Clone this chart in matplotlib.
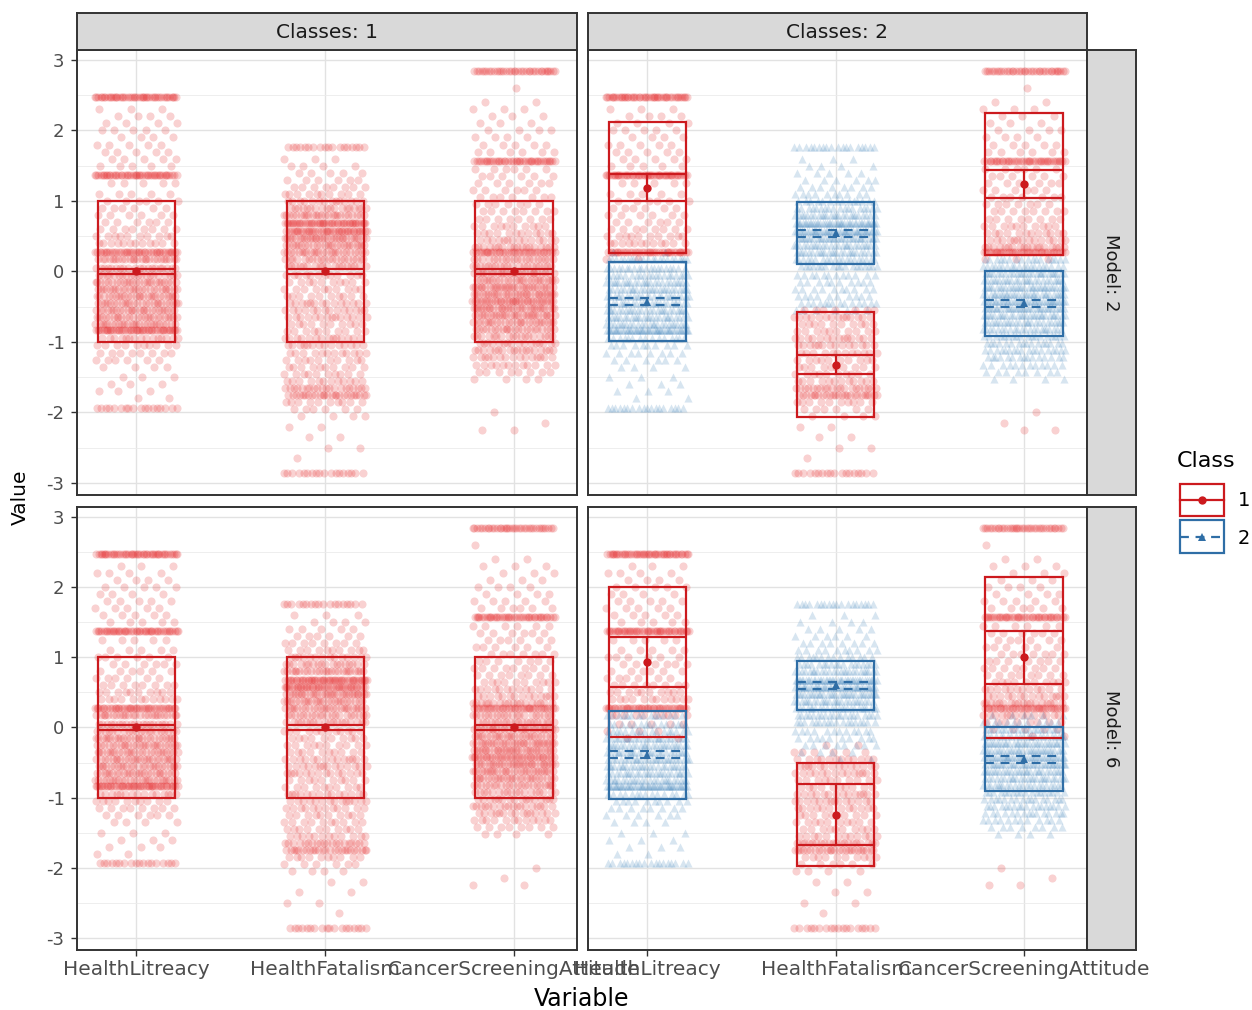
import numpy as np
import matplotlib.pyplot as plt
from matplotlib.patches import Rectangle

# observed score levels (values) and how many respondents sit on each
variables = ["HealthLitreacy", "HealthFatalism", "CancerScreeningAttitude"]

hl_vals = [2.47, 2.3, 2.2, 2.1, 2.0, 1.9, 1.8, 1.7, 1.6, 1.5,
           1.37, 1.25, 1.1, 1.0, 0.9, 0.8, 0.7, 0.6, 0.5, 0.4,
           0.27, 0.18, 0.05, -0.05, -0.15, -0.25, -0.35, -0.45, -0.55, -0.65,
           -0.75, -0.83, -0.95, -1.05, -1.15, -1.25, -1.35, -1.5, -1.6, -1.7,
           -1.8, -1.93]
hl_n = [45, 3, 4, 4, 5, 4, 5, 5, 5, 5,
        45, 5, 5, 6, 6, 6, 6, 8, 10, 12,
        40, 25, 20, 20, 25, 25, 25, 25, 25, 25,
        25, 45, 15, 10, 8, 6, 4, 3, 3, 3,
        2, 18]

hf_vals = [1.76, 1.6, 1.5, 1.4, 1.3, 1.2, 1.1, 1.0, 0.9, 0.8,
           0.68, 0.58, 0.48, 0.38, 0.28, 0.18, 0.08, -0.05, -0.15, -0.25,
           -0.35, -0.45, -0.55, -0.65, -0.75, -0.85, -0.95, -1.05, -1.15, -1.25,
           -1.35, -1.45, -1.55, -1.65, -1.75, -1.85, -1.95, -2.05, -2.2, -2.35,
           -2.5, -2.65, -2.86]
hf_n = [18, 3, 4, 5, 6, 8, 10, 14, 18, 25,
        45, 40, 30, 25, 25, 20, 18, 12, 10, 10,
        10, 14, 14, 14, 10, 10, 14, 14, 12, 10,
        10, 10, 12, 20, 25, 10, 6, 4, 2, 2,
        2, 1, 18]

csa_vals = [2.84, 2.6, 2.4, 2.3, 2.2, 2.1, 2.0, 1.9, 1.8, 1.7,
            1.57, 1.45, 1.35, 1.25, 1.15, 1.05, 0.95, 0.85, 0.75, 0.65,
            0.55, 0.45, 0.35, 0.28, 0.18, 0.08, -0.02, -0.12, -0.22, -0.32,
            -0.42, -0.52, -0.62, -0.72, -0.82, -0.92, -1.02, -1.12, -1.22, -1.32,
            -1.42, -1.52, -2.0, -2.15, -2.25]
csa_n = [35, 1, 2, 3, 3, 3, 4, 4, 5, 6,
         40, 6, 6, 6, 6, 7, 7, 8, 8, 10,
         12, 14, 18, 35, 20, 20, 25, 25, 30, 30,
         35, 30, 28, 25, 22, 18, 16, 18, 15, 12,
         8, 4, 1, 1, 2]

# members of class 1 on each level, two-class solution
hl_c1_m2 = [45, 3, 4, 4, 5, 4, 5, 5, 5, 5,
            45, 5, 5, 6, 6, 6, 6, 8, 10, 12,
            38, 2, 0, 0, 0, 0, 0, 0, 0, 0,
            0, 0, 0, 0, 0, 0, 0, 0, 0, 0,
            0, 0]
hf_c1_m2 = [0, 0, 0, 0, 0, 0, 0, 0, 0, 0,
            0, 0, 0, 0, 0, 0, 0, 0, 0, 0,
            0, 0, 7, 14, 10, 10, 14, 14, 12, 10,
            10, 10, 12, 20, 25, 10, 6, 4, 2, 2,
            2, 1, 18]
csa_c1_m2 = [35, 1, 2, 3, 3, 3, 4, 4, 5, 6,
             40, 6, 6, 6, 6, 7, 7, 8, 8, 10,
             12, 14, 18, 35, 3, 0, 0, 0, 0, 0,
             0, 0, 0, 0, 0, 0, 0, 0, 0, 0,
             0, 0, 1, 1, 2]

hl_c1_m6 = [45, 3, 4, 4, 5, 4, 5, 5, 5, 5,
            45, 5, 5, 6, 6, 6, 6, 8, 10, 12,
            40, 10, 5, 3, 2, 0, 0, 0, 0, 0,
            0, 0, 0, 0, 0, 0, 0, 0, 0, 0,
            0, 0]
hf_c1_m6 = [0, 0, 0, 0, 0, 0, 0, 0, 0, 0,
            0, 0, 0, 0, 0, 0, 0, 0, 0, 2,
            6, 12, 14, 14, 10, 10, 14, 14, 12, 10,
            10, 10, 12, 20, 25, 10, 6, 4, 2, 2,
            2, 1, 18]
csa_c1_m6 = [35, 1, 2, 3, 3, 3, 4, 4, 5, 6,
             40, 6, 6, 6, 6, 7, 7, 8, 8, 10,
             12, 14, 18, 35, 14, 8, 5, 2, 0, 0,
             0, 0, 0, 0, 0, 0, 0, 0, 0, 0,
             0, 0, 1, 1, 2]

# summaries: mean, sd (box) and CI half-width (error bar)
one_mean = [0.0, 0.0, 0.0]
one_sd = [1.0, 1.0, 1.0]
one_ci = [0.03, 0.03, 0.03]

m2_c1_mean = [1.19, -1.32, 1.24]
m2_c1_sd = [0.93, 0.74, 1.00]
m2_c1_ci = [0.19, 0.13, 0.20]
m2_c2_mean = [-0.43, 0.54, -0.45]
m2_c2_sd = [0.56, 0.44, 0.46]
m2_c2_ci = [0.05, 0.05, 0.05]

m6_c1_mean = [0.93, -1.24, 1.00]
m6_c1_sd = [1.07, 0.74, 1.15]
m6_c1_ci = [0.36, 0.43, 0.38]
m6_c2_mean = [-0.39, 0.60, -0.45]
m6_c2_sd = [0.63, 0.35, 0.45]
m6_c2_ci = [0.05, 0.05, 0.05]

models = ["Model: 2", "Model: 6"]
classes = ["Classes: 1", "Classes: 2"]

RED = "#E41A1C"
BLUE = "#377EB8"
RED_LINE = "#CC1A1E"
BLUE_LINE = "#2F6EA6"
HALF = 0.205
JITTER = 0.22

levels = [(hl_vals, hl_n), (hf_vals, hf_n), (csa_vals, csa_n)]
split = {0: [hl_c1_m2, hf_c1_m2, csa_c1_m2], 1: [hl_c1_m6, hf_c1_m6, csa_c1_m6]}
stats2 = {
    0: [(m2_c1_mean, m2_c1_sd, m2_c1_ci), (m2_c2_mean, m2_c2_sd, m2_c2_ci)],
    1: [(m6_c1_mean, m6_c1_sd, m6_c1_ci), (m6_c2_mean, m6_c2_sd, m6_c2_ci)],
}

W, H = 1252, 1010


def px(x0, y0, x1, y1):
    return [x0 / W, 1 - y1 / H, (x1 - x0) / W, (y1 - y0) / H]


def jitter(n, start):
    k = np.arange(start, start + n)
    return ((k * 0.6180339887) % 1.0 - 0.5) * 2 * JITTER


def draw_points(ax, x, vals, counts, color, marker, start):
    ys = np.repeat(vals, counts)
    xs = x + jitter(len(ys), start)
    ax.scatter(xs, ys, s=34, color=color, alpha=0.2, marker=marker,
               linewidths=0, zorder=2)


def draw_summary(ax, x, mean, sd, ci, color, ls, marker):
    ax.add_patch(Rectangle((x - HALF, mean - sd), 2 * HALF, 2 * sd,
                           fill=False, ec=color, lw=1.6, zorder=4))
    ax.hlines([mean - ci, mean + ci], x - HALF, x + HALF, colors=color,
              linestyles=ls, lw=1.6, zorder=4)
    ax.vlines(x, mean - ci, mean + ci, colors=color, linestyles=ls, lw=1.6,
              zorder=4)
    ax.plot(x, mean, marker=marker, color=color, ms=6, mew=0, zorder=5)


fig = plt.figure(figsize=(12.52, 10.10), dpi=100)

panel_x = [(77, 577), (588, 1087)]
panel_y = [(50, 495), (507, 950)]

for r in range(2):
    for c in range(2):
        x0, x1 = panel_x[c]
        y0, y1 = panel_y[r]
        ax = fig.add_axes(px(x0, y0, x1, y1))
        ax.set_xlim(0.685, 3.334)
        ax.set_ylim(-3.17, 3.14)
        ax.set_xticks([1, 2, 3])
        ax.set_yticks(range(-3, 4))
        ax.set_yticks(np.arange(-2.5, 3, 1.0), minor=True)
        ax.grid(which="major", color="#E2E2E2", lw=1.0)
        ax.grid(which="minor", axis="y", color="#EBEBEB", lw=0.6)
        ax.set_axisbelow(True)
        for s in ax.spines.values():
            s.set_color("#333333")
            s.set_linewidth(1.4)
        ax.tick_params(which="minor", length=0)
        ax.tick_params(axis="both", colors="#333333", length=4, width=1.0)
        if c == 0:
            ax.set_yticklabels([str(v) for v in range(-3, 4)], fontsize=13,
                               color="#4D4D4D")
            ax.tick_params(axis="y", pad=5)
        else:
            ax.tick_params(axis="y", length=0, labelleft=False)
        if r == 1:
            ax.set_xticklabels(variables, fontsize=14.5, color="#4D4D4D")
        else:
            ax.tick_params(axis="x", length=0, labelbottom=False)

        k = 0
        for i, (vals, n) in enumerate(levels):
            x = i + 1
            if c == 0:
                draw_points(ax, x, vals, n, RED, "o", k + 17 * r)
                k += sum(n)
            else:
                c1 = split[r][i]
                c2 = [a - b for a, b in zip(n, c1)]
                draw_points(ax, x, vals, c1, RED, "o", k + 17 * r)
                draw_points(ax, x, vals, c2, BLUE, "^", k + 5 + 17 * r)
                k += sum(n)

        for i in range(3):
            x = i + 1
            if c == 0:
                draw_summary(ax, x, one_mean[i], one_sd[i], one_ci[i],
                             RED_LINE, "solid", "o")
            else:
                (m1, s1, e1), (m2, s2, e2) = stats2[r]
                draw_summary(ax, x, m1[i], s1[i], e1[i], RED_LINE, "solid", "o")
                draw_summary(ax, x, m2[i], s2[i], e2[i], BLUE_LINE,
                             (0, (4, 3)), "^")

# strips along the top
for c in range(2):
    x0, x1 = panel_x[c]
    sa = fig.add_axes(px(x0, 13, x1, 50))
    sa.set_facecolor("#D9D9D9")
    sa.set_xticks([])
    sa.set_yticks([])
    for s in sa.spines.values():
        s.set_color("#333333")
        s.set_linewidth(1.4)
    sa.text(0.5, 0.48, classes[c], ha="center", va="center", fontsize=14.5,
            color="#1A1A1A", transform=sa.transAxes)

# strips on the right
for r in range(2):
    y0, y1 = panel_y[r]
    sa = fig.add_axes(px(1087, y0, 1136, y1))
    sa.set_facecolor("#D9D9D9")
    sa.set_xticks([])
    sa.set_yticks([])
    for s in sa.spines.values():
        s.set_color("#333333")
        s.set_linewidth(1.4)
    sa.text(0.5, 0.5, models[r], ha="center", va="center", fontsize=13,
            rotation=270, color="#1A1A1A", transform=sa.transAxes)

fig.text(582 / W, 1 - 999 / H, "Variable", ha="center", va="center",
         fontsize=17)
fig.text(20 / W, 1 - 497 / H, "Value", ha="center", va="center",
         fontsize=14.5, rotation=90)

# legend
lg = fig.add_axes(px(1165, 440, 1252, 565))
lg.set_xlim(1165, 1252)
lg.set_ylim(565, 440)
lg.axis("off")
lg.text(1177, 461, "Class", ha="left", va="center", fontsize=16)
lg.add_patch(Rectangle((1180, 484), 44, 32, fill=False, ec=RED_LINE, lw=1.6))
lg.plot([1180, 1224], [500, 500], color=RED_LINE, lw=1.6)
lg.plot(1202, 500, marker="o", color=RED_LINE, ms=6, mew=0)
lg.add_patch(Rectangle((1180, 520), 44, 33, fill=False, ec=BLUE_LINE, lw=1.6))
lg.plot([1180, 1224], [536.5, 536.5], color=BLUE_LINE, lw=1.6,
        linestyle=(0, (4, 3)))
lg.plot(1202, 536.5, marker="^", color=BLUE_LINE, ms=6, mew=0)
lg.text(1238, 501, "1", ha="left", va="center", fontsize=14)
lg.text(1238, 538, "2", ha="left", va="center", fontsize=14)

fig.savefig("out.png", dpi=100, facecolor="white")
